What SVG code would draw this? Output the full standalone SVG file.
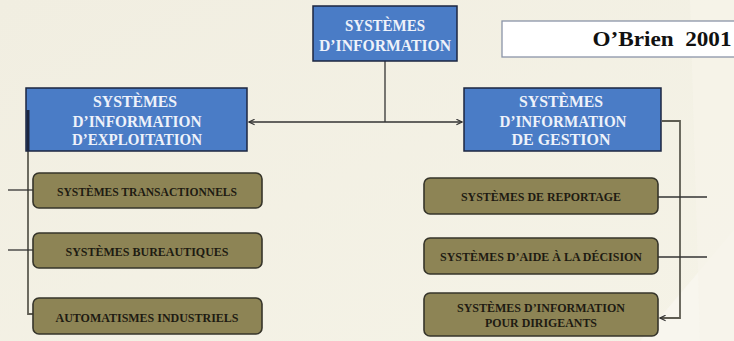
<svg xmlns="http://www.w3.org/2000/svg" width="734" height="341" viewBox="0 0 734 341">
<defs>
<linearGradient id="bg" x1="0" y1="0" x2="1" y2="1">
<stop offset="0" stop-color="#f1eee1"/>
<stop offset="1" stop-color="#f5f3e7"/>
</linearGradient>
<marker id="arr" viewBox="0 0 10 10" refX="9" refY="5" markerWidth="7" markerHeight="7" orient="auto-start-reverse" markerUnits="userSpaceOnUse">
<path d="M1,1 L9,5 L1,9" fill="none" stroke="#333" stroke-width="1.6"/>
</marker>
<style>
.blue{fill:#4a7cc6;stroke:#1c2640;stroke-width:1.5}
.olive{fill:#8d8455;stroke:#36352a;stroke-width:1.6}
.bt{font-family:"Liberation Serif",serif;font-weight:bold;font-size:17px;fill:#eef2fa;text-anchor:middle}
.ot{font-family:"Liberation Serif",serif;font-weight:bold;font-size:13.5px;fill:#1e1b12;text-anchor:middle}
.ln{fill:none;stroke:#333;stroke-width:1.3}
.gl{fill:none;stroke:#5e5c52;stroke-width:1.8}
</style>
</defs>
<rect width="734" height="341" fill="url(#bg)"/>
<polygon points="640,341 734,230 734,341" fill="#f8f6ee"/>
<polygon points="690,0 734,0 734,341 700,341" fill="#f6f4ea" opacity="0.7"/>

<g id="connectors">
<line class="ln" x1="385" y1="61" x2="385" y2="122"/>
<line class="ln" x1="249" y1="122" x2="462" y2="122" marker-start="url(#arr)" marker-end="url(#arr)"/>
<polyline class="gl" points="28,110 28,314 33,314"/>
<line class="ln" x1="8" y1="190" x2="33" y2="190"/>
<line class="ln" x1="8" y1="250" x2="33" y2="250"/>
<polyline class="gl" points="662,121 680,121 680,318 660,318" marker-end="url(#arr)"/>
<line class="ln" x1="658" y1="197" x2="707" y2="197"/>
<line class="ln" x1="658" y1="257" x2="707" y2="257"/>
</g>

<g id="n-si">
<rect class="blue" x="313" y="6" width="144" height="55"/>
<text class="bt" x="385" y="31" textLength="80" lengthAdjust="spacingAndGlyphs">SYSTÈMES</text>
<text class="bt" x="385" y="51" textLength="132" lengthAdjust="spacingAndGlyphs">D’INFORMATION</text>
</g>

<g id="n-obrien">
<rect x="502" y="21" width="240" height="36" fill="#ffffff" stroke="#8a94a8" stroke-width="1.3"/>
<text x="662" y="46" font-family="Liberation Serif, serif" font-weight="bold" font-size="21" fill="#111" text-anchor="middle" xml:space="preserve" style="white-space:pre" textLength="139" lengthAdjust="spacingAndGlyphs">O’Brien  2001</text>
</g>

<g id="n-sie">
<rect class="blue" x="26" y="88" width="221" height="63"/>
<polyline points="28,110 28,151" stroke="#1c2640" stroke-width="3" fill="none"/>
<text class="bt" x="135" y="107" textLength="84" lengthAdjust="spacingAndGlyphs">SYSTÈMES</text>
<text class="bt" x="137" y="127" textLength="129" lengthAdjust="spacingAndGlyphs">D’INFORMATION</text>
<text class="bt" x="137" y="145" textLength="130" lengthAdjust="spacingAndGlyphs">D’EXPLOITATION</text>
</g>

<g id="n-sig">
<rect class="blue" x="464" y="88" width="197" height="63"/>
<text class="bt" x="561" y="107" textLength="84" lengthAdjust="spacingAndGlyphs">SYSTÈMES</text>
<text class="bt" x="563" y="127" textLength="127" lengthAdjust="spacingAndGlyphs">D’INFORMATION</text>
<text class="bt" x="561" y="145" textLength="99" lengthAdjust="spacingAndGlyphs">DE GESTION</text>
</g>

<g id="n-trans">
<rect class="olive" x="33" y="173" width="229" height="35" rx="6"/>
<text class="ot" x="147" y="196" textLength="180" lengthAdjust="spacingAndGlyphs">SYSTÈMES TRANSACTIONNELS</text>
</g>

<g id="n-bur">
<rect class="olive" x="33" y="233" width="229" height="35" rx="6"/>
<text class="ot" x="147" y="256" textLength="163" lengthAdjust="spacingAndGlyphs">SYSTÈMES BUREAUTIQUES</text>
</g>

<g id="n-auto">
<rect class="olive" x="33" y="298" width="229" height="36" rx="6"/>
<text class="ot" x="147" y="322" textLength="183" lengthAdjust="spacingAndGlyphs">AUTOMATISMES INDUSTRIELS</text>
</g>

<g id="n-rep">
<rect class="olive" x="424" y="178" width="234" height="36" rx="6"/>
<text class="ot" x="541" y="201" textLength="160" lengthAdjust="spacingAndGlyphs">SYSTÈMES DE REPORTAGE</text>
</g>

<g id="n-aide">
<rect class="olive" x="424" y="238" width="234" height="36" rx="6"/>
<text class="ot" x="541" y="261" textLength="202" lengthAdjust="spacingAndGlyphs">SYSTÈMES D’AIDE À LA DÉCISION</text>
</g>

<g id="n-dir">
<rect class="olive" x="424" y="293" width="234" height="43" rx="6"/>
<text class="ot" x="541" y="312" textLength="168" lengthAdjust="spacingAndGlyphs">SYSTÈMES D’INFORMATION</text>
<text class="ot" x="541" y="327" textLength="112" lengthAdjust="spacingAndGlyphs">POUR DIRIGEANTS</text>
</g>
</svg>
